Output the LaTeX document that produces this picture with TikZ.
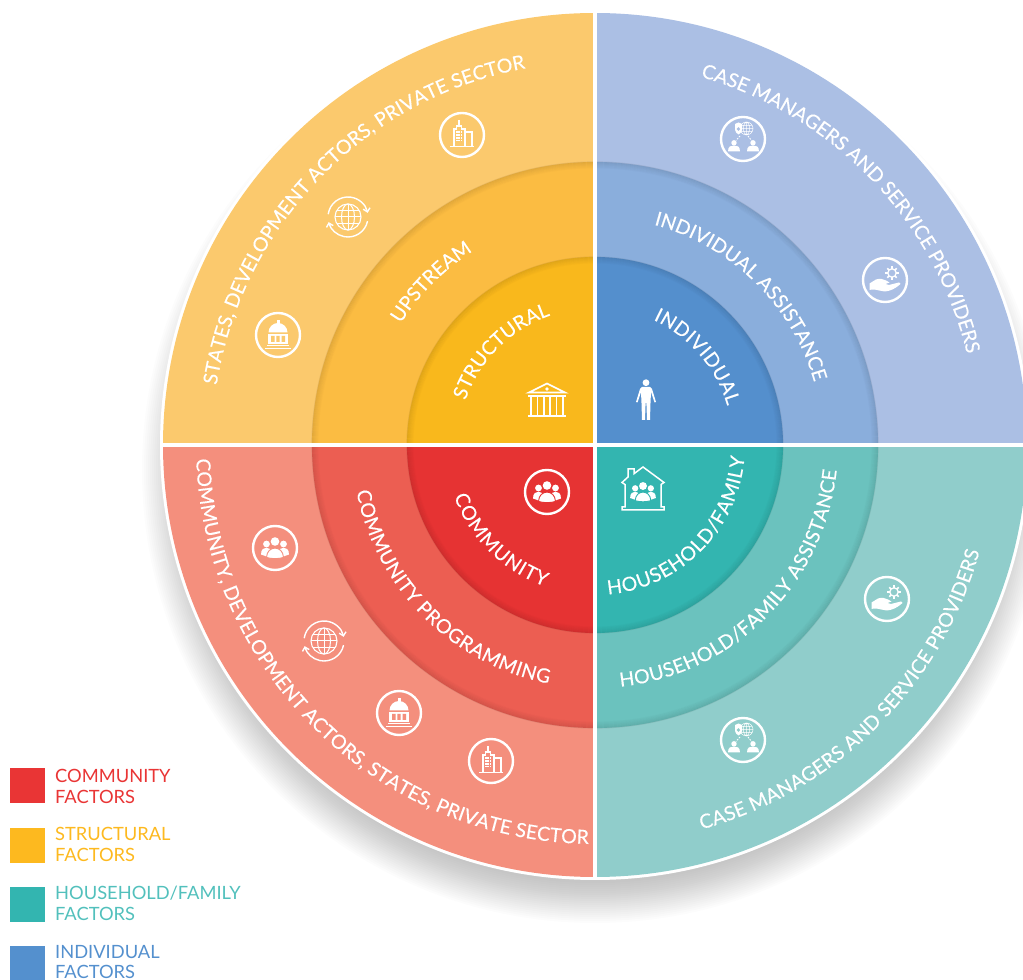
\documentclass[tikz,border=0pt]{standalone}
\usepackage{fontspec}
\setmainfont{Lato}
\newfontfamily\arcfont[UprightFeatures={FakeBold=0.25}]{Lato}
\usetikzlibrary{decorations.text,arrows.meta}
\definecolor{tlA}{HTML}{FBC96D}\definecolor{tlB}{HTML}{FBBC42}\definecolor{tlC}{HTML}{F9B81C}
\definecolor{trA}{HTML}{ABBFE4}\definecolor{trB}{HTML}{8AAEDC}\definecolor{trC}{HTML}{548FCD}
\definecolor{blA}{HTML}{F48F7D}\definecolor{blB}{HTML}{EC5E52}\definecolor{blC}{HTML}{E63333}
\definecolor{brA}{HTML}{90CDCB}\definecolor{brB}{HTML}{6BC2BE}\definecolor{brC}{HTML}{33B5B0}
\definecolor{legR}{HTML}{E93535}\definecolor{legY}{HTML}{FDB91F}\definecolor{legT}{HTML}{33B5B0}\definecolor{legB}{HTML}{5490CE}
\newcommand{\quadsector}[3]{\fill[#1] (C) -- ([shift={(C)}]#2:#3) arc[start angle=#2,delta angle=90,radius=#3] -- cycle;}
\newcommand{\arctext}[4]{\path[decorate,decoration={text along path,text align={fit to path},
  text={|\arcfont\fontsize{19.5}{19.5}\selectfont\color{white}|#4}}]
  ([shift={(C)}]#1:#3) arc[start angle=#1,end angle=#2,radius=#3];}
\newcommand{\rimshade}[1]{\foreach \i in {0,...,6}{\draw[black,opacity=0.011*(7-\i),line width=1.2pt] (C) circle[radius=#1-\i];}}
\tikzset{
  rim/.style={white,line width=2.4pt},
  thin line/.style={white,line width=1.2pt},
  legend text/.style={font=\fontsize{18.3}{20.7}\selectfont,align=left,anchor=base west,inner sep=0pt},
  pics/bldicon/.style={code={
    \draw[rim] (0,0) circle[radius=22];
    \draw[thin line,line join=miter] (-8,-11.5)--(-8,6)--(-5.5,6)--(-5.5,9)--(-0.5,9)--(-0.5,6)--(3,6)--(3,-11.5);
    \draw[thin line] (-3,9)--(-3,15);
    \draw[thin line] (3,3)--(10,3)--(10,-11.5);
    \draw[thin line] (-12,-11.5)--(12,-11.5);
    \foreach \a in {-5.9,-3.7,-1.5}{\foreach \b in {2,-0.8,-3.6,-6.4}{\fill[white] (\a,\b) rectangle +(1.5,1.5);}}
  }},
  pics/globeicon/.style={code={
    \draw[white,line width=1.1pt] (0,0) circle[radius=13];
    \draw[white,line width=1pt] (0,0) ellipse[x radius=6.5,y radius=13];
    \draw[white,line width=1pt] (0,-13)--(0,13) (-13,0)--(13,0) (-11.3,6.5)--(11.3,6.5) (-11.3,-6.5)--(11.3,-6.5);
    \draw[white,line width=1.4pt,-{Straight Barb[length=3.5pt,width=7pt]}] (172:20) arc[start angle=172,end angle=12,radius=20];
    \draw[white,line width=1.4pt,-{Straight Barb[length=3.5pt,width=7pt]}] (-12:20) arc[start angle=-12,end angle=-165,radius=20];
  }},
  pics/capicon/.style={code={
    \draw[rim] (0,0) circle[radius=22];
    \fill[white] (-9.5,2.5) arc[start angle=180,end angle=0,radius=9.5] -- cycle;
    \fill[white] (-1.5,11) rectangle (1.5,14.5);
    \fill[white] (-10,-9) rectangle (10,1.3);
    \fill[#1] (-7,-7) rectangle (-3.5,-1) (-1.7,-7) rectangle (1.7,-1) (3.5,-7) rectangle (7,-1);
    \draw[thin line] (-11,-10.8)--(11,-10.8);
    \draw[thin line] (-13,-13.4)--(13,-13.4);
  }},
  pics/peoplemark/.style={code={
    \fill[white] (-8.5,4) circle[radius=3.4] (8.5,4) circle[radius=3.4] (0,6.5) circle[radius=4.3];
    \fill[white] (-14,-6.5) .. controls (-14,-1) and (-11,0.3) .. (-8.5,0.3) -- (-5,-1) -- (-7,-9) -- cycle;
    \fill[white] (14,-6.5) .. controls (14,-1) and (11,0.3) .. (8.5,0.3) -- (5,-1) -- (7,-9) -- cycle;
    \filldraw[fill=white,draw=#1,line width=0.9pt] (-8.5,-9.5) .. controls (-8,3) and (8,3) .. (8.5,-9.5) .. controls (3,-11) and (-3,-11) .. cycle;
  }},
  pics/peopleicon/.style={code={
    \draw[rim] (0,0) circle[radius=22];
    \pic {peoplemark=#1};
  }},
  pics/handicon/.style={code={
    \draw[rim] (0,0) circle[radius=22];
    \draw[white,line width=1.3pt] (7,7) circle[radius=4.2];
    \foreach \a in {0,45,...,315}{\draw[white,line width=1.7pt] ([shift={(7,7)}]\a:4.2)--([shift={(7,7)}]\a:6.6);}
    \fill[white] (-15.5,-3.5)--(-9,0.5) .. controls (-5,1.8) and (-2,1) .. (1,-0.5)--(4.5,-2.5)--(0.5,-4)--(4,-5)--(14,-2.5)--(15.5,-4)
      .. controls (10,-9) and (5,-11) .. (0,-11.5) .. controls (-5,-11) and (-8,-9.5) .. (-13,-9.5)--(-15.5,-10)--cycle;
  }},
  pics/neticon/.style={code={
    \draw[rim] (0,0) circle[radius=22];
    \fill[white] (-8,15)--(-4.5,16.5)--(-1,15)--(-1,9) .. controls (-1.5,6.5) and (-3,5.5) .. (-4.5,4.5) .. controls (-6,5.5) and (-7.5,6.5) .. (-8,9)--cycle;
    \fill[#1] (-4.5,10) circle[radius=1.8];
    \draw[white,line width=0.5pt] (3.5,10.5) circle[radius=6.5] (3.5,10.5) ellipse[x radius=3,y radius=6.5] (-3,10.5)--(10,10.5) (-2.2,13.5)--(9.2,13.5) (-2.2,7.5)--(9.2,7.5) (3.5,4)--(3.5,17);
    \draw[white,line width=0.9pt,dash pattern=on 1.6pt off 1.2pt] (-3,3)--(-7,-1.5);
    \draw[white,line width=0.9pt,dash pattern=on 1.6pt off 1.2pt] (5,3)--(8.5,-1.5);
    \foreach \a in {-9,10}{
      \fill[white] (\a,-3.8) circle[radius=2.7];
      \fill[white] (\a-6,-12.5) .. controls (\a-6,-7) and (\a-3,-6.5) .. (\a,-6.5) .. controls (\a+3,-6.5) and (\a+6,-7) .. (\a+6,-12.5)--cycle;}
  }},
  pics/bankicon/.style={code={
    \draw[white,line width=1.7pt,line join=miter] (-18,7.5)--(0,16.5)--(18,7.5)--cycle;
    \fill[white] (0,11) circle[radius=1.8];
    \draw[white,line width=2pt] (-19,3.7)--(19,3.7);
    \draw[white,line width=2pt] (-19,-15.8)--(19,-15.8);
    \foreach \a in {-16,-9.6,-3.2,3.2,9.6,16}{\draw[white,line width=1.6pt] (\a,3)--(\a,-15);}
  }},
  pics/personicon/.style={code={
    \fill[white] (0,17.3) circle[radius=3.4];
    \fill[white] (-4,13)--(4,13)--(6,11)--(10,-2)--(8.5,-2.5)--(5,8)--(4.5,-3)--(4,-20)--(1,-20)--(0.4,-3)--(-0.4,-3)--(-1,-20)--(-4,-20)--(-4.5,-3)--(-5,8)--(-8.5,-2.5)--(-10,-2)--(-6,11)--cycle;
  }},
  pics/houseicon/.style={code={
    \draw[white,line width=1.5pt,line join=miter] (-18,4.5)--(-21,6.5)--(-15,12)--(-15,20)--(-9,20)--(-9,15.3)--(0,22)--(21,6.5)--(18,4.5)--(18,-18)--(21,-18)--(21,-21)--(-21,-21)--(-21,-18)--(-18,-18)--cycle;
    \begin{scope}[shift={(0,-3)},x=0.92pt,y=0.92pt]\pic {peoplemark=#1};\end{scope}
  }},
}
\begin{document}
\begin{tikzpicture}[x=1pt,y=1pt]
\useasboundingbox (0,0) rectangle (1023,980);
\clip (0,0) rectangle (1023,980);
\coordinate (C) at (595,535);
% soft drop shadow
\foreach \i in {0,...,20}{\fill[black,opacity=0.013] (595,510) circle[radius=453-2*\i];}
% outer disc
\fill[white] (C) circle[radius=435];
\quadsector{trA}{0}{432}\quadsector{tlA}{90}{432}\quadsector{blA}{180}{432}\quadsector{brA}{270}{432}
% middle ring
\quadsector{trB}{0}{283}\quadsector{tlB}{90}{283}\quadsector{blB}{180}{283}\quadsector{brB}{270}{283}
\rimshade{283}
% inner disc
\quadsector{trC}{0}{188}\quadsector{tlC}{90}{188}\quadsector{blC}{180}{188}\quadsector{brC}{270}{188}
\rimshade{188}
% white cross
\fill[white] ([xshift=-2,yshift=-435]C) rectangle ([xshift=2,yshift=435]C);
\fill[white] ([xshift=-435,yshift=-2]C) rectangle ([xshift=435,yshift=2]C);
% curved labels
\arctext{171}{100.5}{383}{STATES, DEVELOPMENT ACTORS, PRIVATE SECTOR}
\arctext{74}{14.5}{383}{CASE MANAGERS AND SERVICE PROVIDERS}
\arctext{182}{269}{399}{COMMUNITY, DEVELOPMENT ACTORS, STATES, PRIVATE SECTOR}
\arctext{-74.5}{-15.5}{399}{CASE MANAGERS AND SERVICE PROVIDERS}
\arctext{148}{122.5}{229}{UPSTREAM}
\arctext{75}{16}{228}{INDIVIDUAL ASSISTANCE}
\arctext{191}{259}{243}{COMMUNITY PROGRAMMING}
\arctext{-84}{-6}{243}{HOUSEHOLD/FAMILY ASSISTANCE}
\arctext{161}{109}{137}{STRUCTURAL}
\arctext{65}{16.5}{138}{INDIVIDUAL}
\arctext{200}{250.5}{150}{COMMUNITY}
\arctext{-85}{-4.5}{150}{HOUSEHOLD/FAMILY}
% icons
\pic (iconA) at (462,845) {bldicon};
\pic (iconB) at (348,763) {globeicon};
\pic (iconC) at (278,645) {capicon=tlA};
\pic (iconD) at (547,580) {bankicon};
\pic (iconE) at (743,841) {neticon=trA};
\pic (iconF) at (885,700) {handicon};
\pic (iconG) at (646,580) {personicon};
\pic (iconH) at (275,432) {peopleicon=blA};
\pic (iconI) at (324,339) {globeicon};
\pic (iconJ) at (399,267) {capicon=blA};
\pic (iconK) at (491,219) {bldicon};
\pic (iconL) at (547,488) {peopleicon=blC};
\pic (iconM) at (643,491) {houseicon=brC};
\pic (iconN) at (887,381) {handicon};
\pic (iconO) at (743,240) {neticon=brA};
% legend
\node[fill=legR,minimum size=35pt,inner sep=0pt,anchor=south west] (swatchC) at (10,176.3) {};
\node[fill=legY,minimum size=35pt,inner sep=0pt,anchor=south west] (swatchS) at (10,117) {};
\node[fill=legT,minimum size=35pt,inner sep=0pt,anchor=south west] (swatchH) at (10,58) {};
\node[fill=legB,minimum size=35pt,inner sep=0pt,anchor=south west] (swatchI) at (10,-1) {};
\node[legend text,text=legR] (labC) at (55,176.8) {COMMUNITY\\FACTORS};
\node[legend text,text=legY] (labS) at (55,118.5) {STRUCTURAL\\FACTORS};
\node[legend text,text=legT!85!white] (labH) at (55,59.5) {HOUSEHOLD/FAMILY\\FACTORS};
\node[legend text,text=legB] (labI) at (55,1) {INDIVIDUAL\\FACTORS};
\end{tikzpicture}
\end{document}
